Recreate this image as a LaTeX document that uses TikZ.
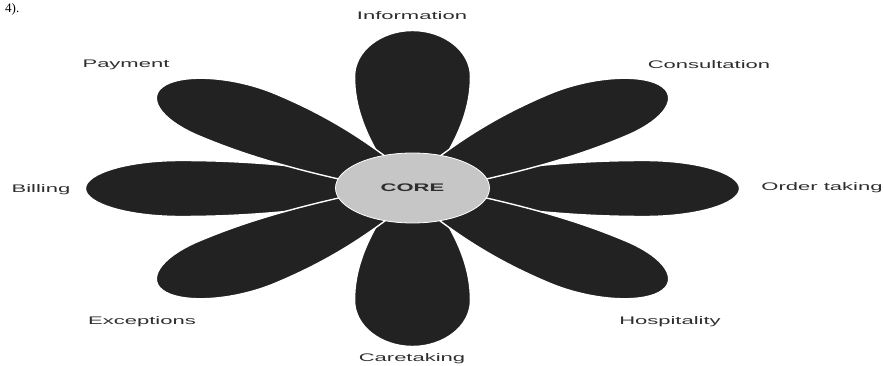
\documentclass[tikz,border=0pt]{standalone}
\usepackage{fontspec}
\setmainfont{Liberation Sans}
\newfontfamily\serifnum{Liberation Serif}
\usetikzlibrary{shapes.geometric}
\definecolor{petalcol}{HTML}{222222}
\definecolor{coregray}{HTML}{C6C6C6}
\definecolor{labelgray}{HTML}{2E2E2E}
\tikzset{
  petalshape/.style={fill=petalcol, draw=white, line width=1.4pt},
  lbl/.style={text=labelgray, font=\fontsize{11}{13}\selectfont, inner sep=0pt},
  corenode/.style={ellipse, fill=coregray, draw=white, line width=0.8pt,
    minimum width=154pt, minimum height=70pt, inner sep=0pt,
    font=\bfseries\fontsize{11}{13}\selectfont, text=labelgray}
}
\begin{document}
\begin{tikzpicture}[x=1pt,y=1pt]
\useasboundingbox (0,0) rectangle (884,-366);
\clip (0,0) rectangle (884,-366);
\begin{scope}[shift={(412.5,-188.5)}, xscale=2.07]
  \foreach \a in {0,180,90,270,41,139,221,319} {
    \filldraw[petalshape, rotate=\a] (22,13) .. controls (55,23) and (82,28) .. (112,28)
      .. controls (138,28) and (158,15) .. (158,0)
      .. controls (158,-15) and (138,-28) .. (112,-28)
      .. controls (82,-28) and (55,-23) .. (22,-13) -- cycle;
  }
\end{scope}
\node[corenode] (core) at (412.5,-188) {\raisebox{-2pt}{\scalebox{2}[1]{CORE}}};
\node[lbl] (info) at (412,-16) {\scalebox{2}[1]{Information}};
\node[lbl] (consult) at (709,-65) {\scalebox{2}[1]{Consultation}};
\node[lbl] (order) at (822,-188) {\scalebox{2}[1]{Order taking}};
\node[lbl] (billing) at (41,-190) {\scalebox{2}[1]{Billing}};
\node[lbl] (payment) at (126,-65) {\scalebox{2}[1]{Payment}};
\node[lbl] (except) at (142,-322) {\scalebox{2}[1]{Exceptions}};
\node[lbl] (hosp) at (670,-322) {\scalebox{2}[1]{Hospitality}};
\node[lbl] (care) at (412,-359) {\scalebox{2}[1]{Caretaking}};
\node[anchor=base west, inner sep=0pt, font=\serifnum\fontsize{13}{15}\selectfont] (num) at (5,-13) {4).};
\end{tikzpicture}
\end{document}
